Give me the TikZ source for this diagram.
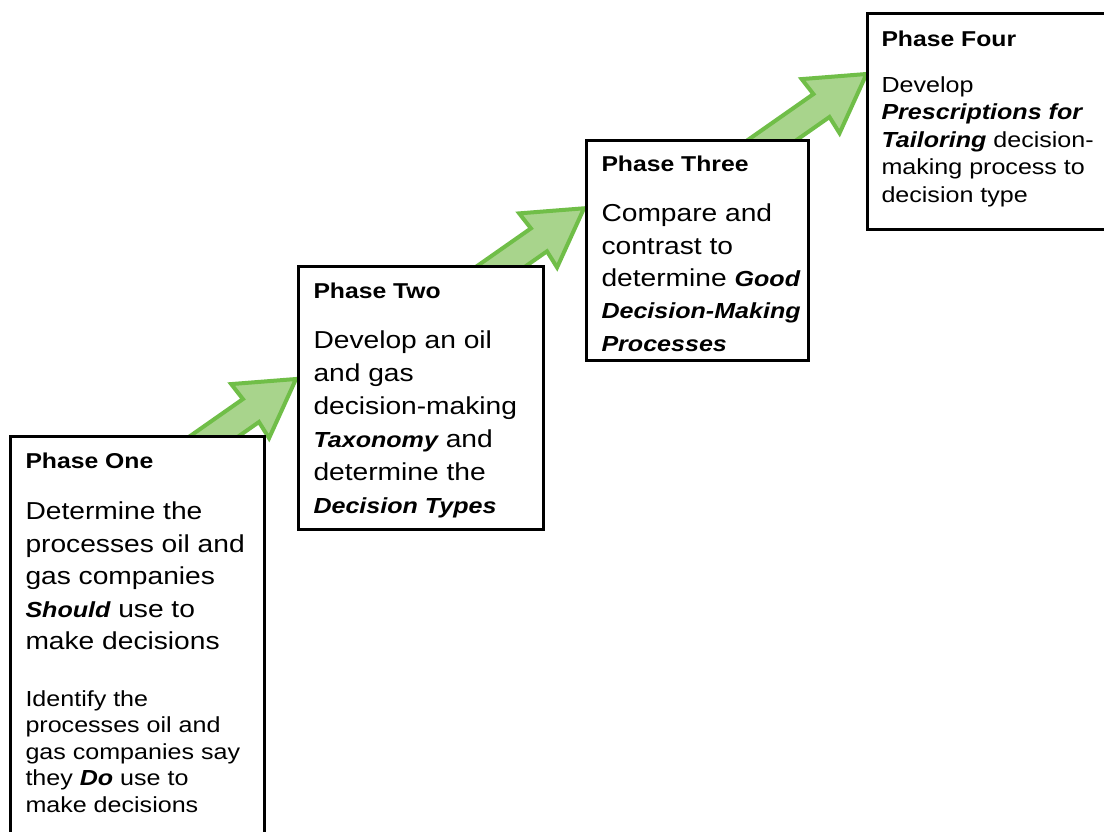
\documentclass[tikz,border=0pt]{standalone}
\usepackage{fontspec}
\setmainfont{Liberation Sans}[FakeStretch=1.15]
\usetikzlibrary{calc}
\pgfdeclarelayer{background}
\pgfsetlayers{background,main}

\definecolor{arrowline}{RGB}{112,190,72}
\definecolor{arrowfill}{RGB}{168,212,140}

% type sizes: heading, main statement, supporting note
\newcommand{\headfont}{\fontsize{21.5}{26}\selectfont\bfseries}
\newcommand{\bodyfont}{\fontsize{24.5}{32.5}\selectfont}
\newcommand{\notefont}{\fontsize{21.8}{27}\selectfont}
\newcommand{\keyword}[1]{{\fontsize{21.8}{27}\selectfont\bfseries\itshape #1}}

\tikzset{
  phasebox/.style={draw=black, line width=3pt, fill=white, anchor=north west,
    inner xsep=15pt, inner ysep=0pt},
  steparrow/.style={draw=arrowline, fill=arrowfill, line width=4pt, line join=miter},
}

% block arrow with its tip at the origin, pointing along +x
\newcommand{\blockarrow}{%
  (0,0) -- (-56,33) -- (-55,14) -- (-165,14) -- (-165,-14) -- (-55,-14) -- (-56,-33) -- cycle}

\begin{document}
\begin{tikzpicture}[x=1pt, y=1pt]
\useasboundingbox (0,0) rectangle (1104,-832);

\node[phasebox] (p1) at (9,-435) {\parbox[t][420pt][t]{224pt}{\raggedright
  \rule{0pt}{31.7pt}{\headfont Phase One}\par
  \vspace{19pt}
  {\bodyfont Determine the\\ processes oil and\\ gas companies\\ \keyword{Should} use to\\ make decisions\par}
  \vspace{30pt}
  {\notefont\baselineskip=26.5pt Identify the\\ processes oil and\\ gas companies say\\ they \keyword{Do} use to\\ make decisions\par}}};

\node[phasebox] (p2) at (297,-265) {\parbox[t][263pt][t]{215pt}{\raggedright
  \rule{0pt}{31.7pt}{\headfont Phase Two}\par
  \vspace{17.8pt}
  {\bodyfont\baselineskip=32.9pt Develop an oil\\ and gas\\ decision-making\\ \keyword{Taxonomy} and\\ determine the\\ \keyword{Decision~Types}\par}}};

\node[phasebox] (p3) at (585,-139.3) {\parbox[t][220pt][t]{192pt}{\raggedright
  \rule{0pt}{30.7pt}{\headfont Phase Three}\par
  \vspace{18.2pt}
  {\bodyfont\baselineskip=32.3pt Compare and\\ contrast to\\ \mbox{determine \keyword{Good}}\\ \mbox{\keyword{Decision-Making}}\\ \keyword{Processes}\par}}};

% the last box runs past the right-hand edge of the page, so its
% frame is drawn open on that side
\node[phasebox, draw=none, inner xsep=14pt] (p4) at (866,-12) {\parbox[t][216pt][t]{300pt}{\raggedright
  \rule{0pt}{33.3pt}{\headfont Phase Four}\par
  \vspace{18.2pt}
  {\notefont\baselineskip=27.5pt Develop\\ \keyword{Prescriptions for}\\ \keyword{Tailoring} decision-\\ making process to\\ decision type\par}}};
\draw[line width=3pt, line join=miter]
  ([xshift=1.5pt, yshift=-1.5pt]p4.north east) -- ([xshift=1.5pt, yshift=-1.5pt]p4.north west)
  -- ([xshift=1.5pt, yshift=1.5pt]p4.south west) -- ([xshift=1.5pt, yshift=1.5pt]p4.south east);

% arrow tips sit on the left side of the following box
\coordinate (t1) at ($(p2.north west)+(-1,-114)$);
\coordinate (t2) at ($(p3.north west)+(-1,-69)$);
\coordinate (t3) at ($(p4.north west)+(0.5,-62)$);

\begin{pgfonlayer}{background}
  \fill[white] (0,0) rectangle (1104,-832);
  \begin{scope}[shift={(t1)}, rotate=35]
    \draw[steparrow] \blockarrow;
  \end{scope}
  \begin{scope}[shift={(t2)}, rotate=35]
    \draw[steparrow] \blockarrow;
  \end{scope}
  \begin{scope}[shift={(t3)}, rotate=35]
    \draw[steparrow] \blockarrow;
  \end{scope}
\end{pgfonlayer}
\end{tikzpicture}
\end{document}
